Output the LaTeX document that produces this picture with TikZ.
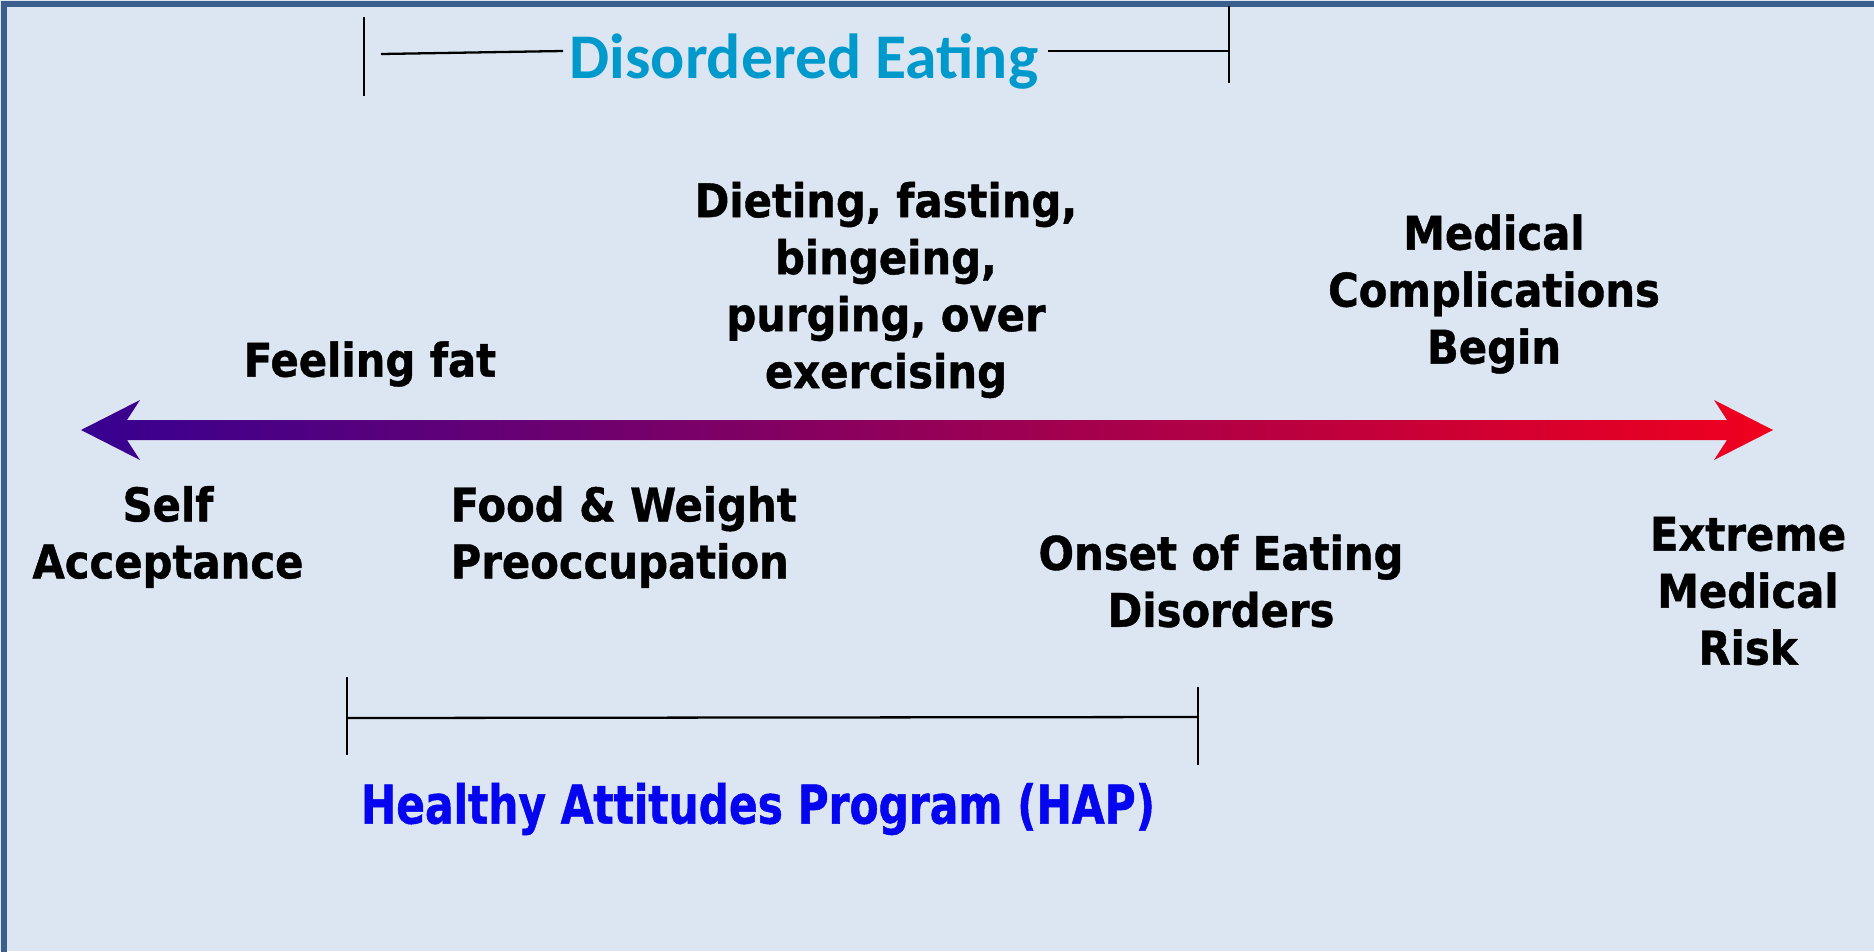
\documentclass[tikz,border=0pt]{standalone}
\usepackage{fontspec}
\usepackage{xcolor}
\setmainfont{DejaVu Sans Condensed}
\newfontfamily\labelfont{DejaVu Sans Condensed}[BoldFeatures={FakeBold=0.9}]
\newfontfamily\titlefont{Carlito}
\newfontfamily\progfont{DejaVu Sans Condensed}[FakeStretch=0.88, BoldFeatures={FakeBold=0.9}]
\definecolor{panelbg}{HTML}{DCE6F2}
\definecolor{panelrule}{HTML}{3B5E8C}
\definecolor{calm}{RGB}{55,0,145}
\definecolor{alarm}{RGB}{240,0,30}
\definecolor{decyan}{RGB}{0,153,204}
\definecolor{hapblue}{RGB}{5,5,240}

\begin{document}
\begin{tikzpicture}[
  x=0.01cm, y=-0.01cm,
  lbl/.style={font=\labelfont\bfseries\fontsize{13.2}{16.2}\selectfont, align=center, inner sep=0pt},
  bracket/.style={draw=black, line width=0.65pt}
]
\useasboundingbox (0,0) rectangle (1874,951);
\fill[panelbg] (0,0) rectangle (1874,951);
\draw[panelrule, line width=1.8pt] (4,4) rectangle (1890,970);

\shade[left color=calm, right color=alarm]
  (81,430) -- (140,400) -- (127,420) -- (1727,420) -- (1714,400) -- (1773,430)
  -- (1714,460) -- (1727,440) -- (127,440) -- (140,460) -- cycle;

\node[lbl] (dieting) at (886,290) {Dieting, fasting,\\bingeing,\\purging, over\\exercising};
\node[lbl] (medical) at (1494,294) {Medical\\Complications\\Begin};
\node[lbl] (fat) at (370,364) {Feeling fat};
\node[lbl] (self) at (168,537) {Self\\Acceptance};
\node[lbl, align=left, anchor=west] (preocc) at (450,537) {Food \& Weight\\Preoccupation};
\node[lbl] (onset) at (1221,581) {Onset of Eating\\Disorders};
\node[lbl] (extreme) at (1748,591) {Extreme\\Medical\\Risk};

\node[font=\titlefont\bfseries\fontsize{18.1}{21}\selectfont, text=decyan, inner sep=0pt] (disord) at (804,62) {Disordered Eating};
\node[font=\progfont\bfseries\fontsize{15.2}{18}\selectfont, text=hapblue, inner sep=0pt] (hap) at (758,809) {Healthy Attitudes Program (HAP)};

\coordinate (deLtop) at (364,17);
\coordinate (deLbot) at (364,96);
\coordinate (deLa) at (381,54);
\coordinate (deLb) at (563,51);
\coordinate (deRa) at (1048,51);
\coordinate (deRmid) at (1229,51);
\coordinate (deRtop) at (1229,6);
\coordinate (deRbot) at (1229,83);
\draw[bracket] (deLtop) -- (deLbot);
\draw[bracket] (deLa) -- (deLb);
\draw[bracket] (deRa) -- (deRmid);
\draw[bracket] (deRtop) -- (deRbot);

\coordinate (hapLtop) at (347,677);
\coordinate (hapLbot) at (347,755);
\coordinate (hapLmid) at (347,718);
\coordinate (hapRmid) at (1198,717);
\coordinate (hapRtop) at (1198,687);
\coordinate (hapRbot) at (1198,765);
\draw[bracket] (hapLtop) -- (hapLbot);
\draw[bracket] (hapLmid) -- (hapRmid);
\draw[bracket] (hapRtop) -- (hapRbot);
\end{tikzpicture}
\end{document}
